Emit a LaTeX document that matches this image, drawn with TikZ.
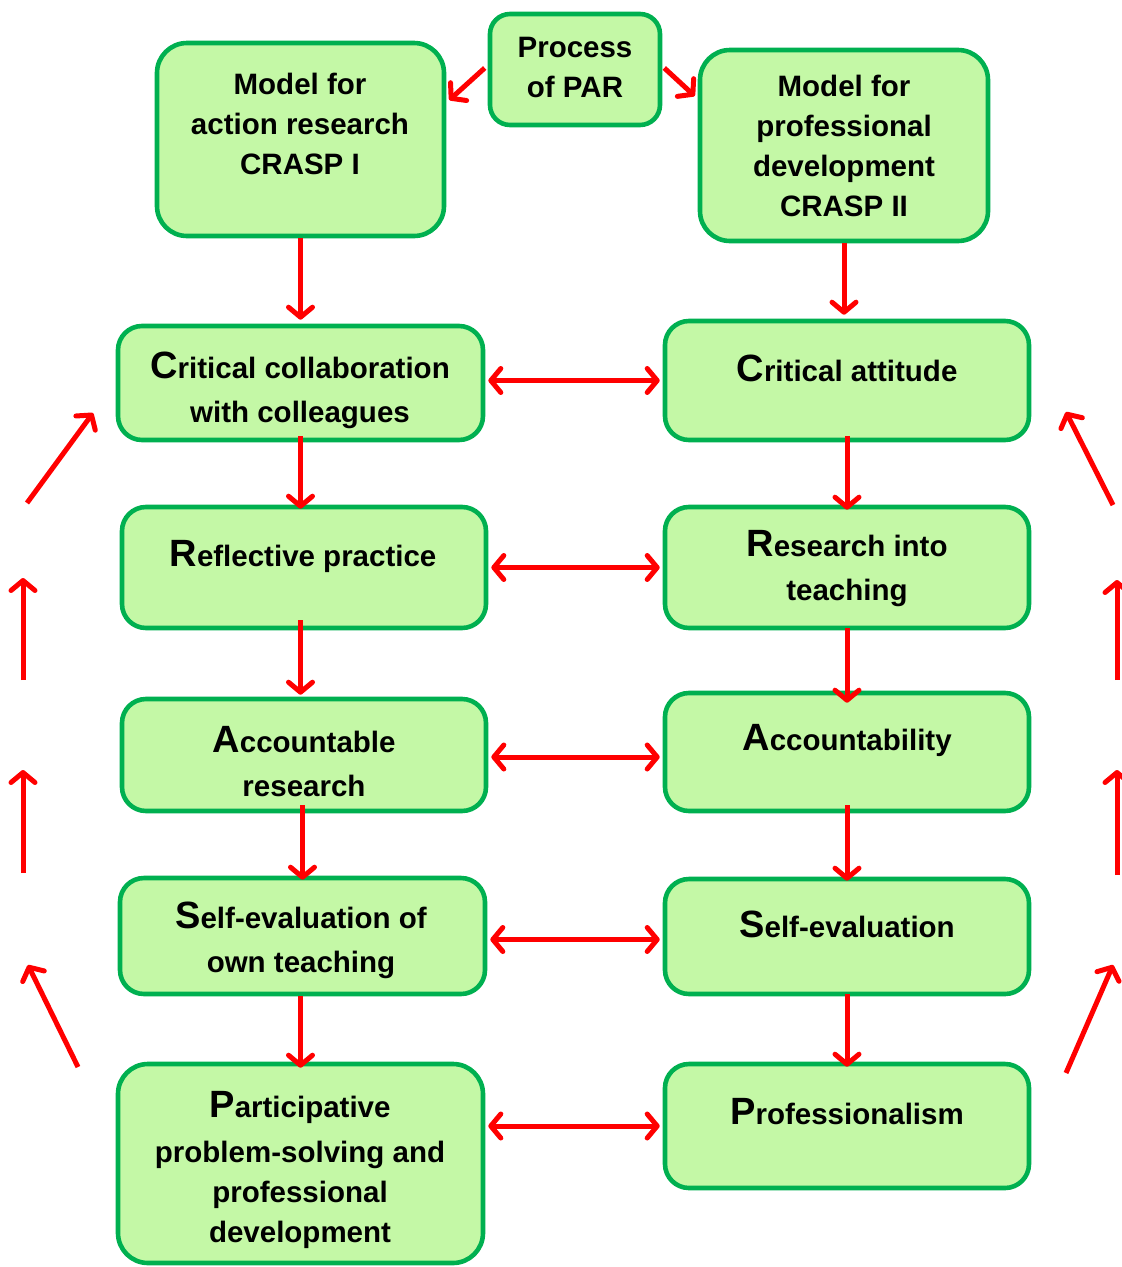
\documentclass[tikz,border=0pt]{standalone}
\usepackage{fontspec}
\setmainfont{Liberation Sans}
\usetikzlibrary{arrows.meta}
\definecolor{boxfill}{RGB}{196,248,166}
\definecolor{boxline}{RGB}{0,176,80}
\definecolor{arrred}{RGB}{255,0,0}
\newcommand{\bigini}[1]{{\fontsize{38}{44}\selectfont #1}}
\begin{document}
\begin{tikzpicture}[x=1pt,y=1pt,
  box/.style={draw=boxline, fill=boxfill, line width=4.6pt, rounded corners=24pt, inner sep=0pt},
  txt/.style={align=center, font=\bfseries\fontsize{29.5}{44}\selectfont, inner sep=0pt},
  ttxt/.style={align=center, font=\bfseries\fontsize{29.5}{40}\selectfont, inner sep=0pt},
  arr/.style={draw=arrred, line width=5pt, line cap=butt, -{Straight Barb[length=10pt,width=24pt,round]}},
  darr/.style={draw=arrred, line width=5pt, {Straight Barb[length=10pt,width=24pt,round]}-{Straight Barb[length=10pt,width=24pt,round]}}
]
\useasboundingbox (0,0) rectangle (1122,-1267);
% boxes
\node[box, rounded corners=20pt, minimum width=170pt, minimum height=111pt] (proc) at (575,-69.5) {};
\node[box, rounded corners=30pt, minimum width=287pt, minimum height=193pt] (m1) at (300.5,-139.5) {};
\node[box, rounded corners=30pt, minimum width=288pt, minimum height=191pt] (m2) at (844,-145.5) {};
\node[box, minimum width=365pt, minimum height=114pt] (L1) at (300.5,-383) {};
\node[box, minimum width=364pt, minimum height=119pt] (R1) at (847,-380.5) {};
\node[box, minimum width=364pt, minimum height=121pt] (L2) at (304,-567.5) {};
\node[box, minimum width=364pt, minimum height=121pt] (R2) at (847,-567.5) {};
\node[box, minimum width=364pt, minimum height=112pt] (L3) at (304,-755) {};
\node[box, minimum width=364pt, minimum height=118pt] (R3) at (847,-752) {};
\node[box, minimum width=365pt, minimum height=116pt] (L4) at (302.5,-936) {};
\node[box, minimum width=364pt, minimum height=115pt] (R4) at (847,-936.5) {};
\node[box, rounded corners=30pt, minimum width=365pt, minimum height=199pt] (L5) at (300.5,-1163.5) {};
\node[box, minimum width=364pt, minimum height=124pt] (R5) at (847,-1126) {};
% texts
\node[ttxt] (tproc) at (575,-67) {Process\\of PAR};
\node[ttxt] (tm1) at (300,-124) {Model for\\action research\\CRASP I};
\node[ttxt] (tm2) at (844,-146) {Model for\\professional\\development\\CRASP II};
\node[txt] (tL1) at (300,-390) {\bigini{C}ritical collaboration\\with colleagues};
\node[txt] (tR1) at (847,-368) {\bigini{C}ritical attitude};
\node[txt] (tL2) at (303,-556) {\bigini{R}eflective practice};
\node[txt] (tR2) at (847,-569) {\bigini{R}esearch into\\teaching};
\node[txt] (tL3) at (304,-762) {\bigini{A}ccountable\\research};
\node[txt] (tR3) at (847,-740) {\bigini{A}ccountability};
\node[txt] (tL4) at (301,-940) {\bigini{S}elf-evaluation of\\own teaching};
\node[txt] (tR4) at (847,-924) {\bigini{S}elf-evaluation};
\node[ttxt] (tL5) at (300,-1170) {\bigini{P}articipative\\[5pt]problem-solving and\\professional\\development};
\node[txt] (tR5) at (847,-1112) {\bigini{P}rofessionalism};
% top arrows
\draw[arr] ([xshift=-3pt,yshift=1.5pt]proc.west) -- ([xshift=3pt,yshift=39.5pt]m1.east);
\draw[arr] ([xshift=2pt,yshift=1.5pt]proc.east) -- ([xshift=-3pt,yshift=49.5pt]m2.west);
% vertical arrows
\draw[arr] (m1.south) -- ([yshift=4pt]m1.south |- L1.north);
\draw[arr] (m2.south) -- ([yshift=4pt]m2.south |- R1.north);
\draw[arr] ([yshift=6pt]L1.south) -- ([yshift=-4pt]L1.south |- L2.north);
\draw[arr] ([yshift=10pt]L2.south -| L1.south) -- ([yshift=2pt]L1.south |- L3.north);
\draw[arr] ([yshift=8pt]L3.south -| L4.south) -- ([yshift=-4pt]L4.north);
\draw[arr] (L4.south -| L1.south) -- ([yshift=-6pt]L5.north);
\draw[arr] ([yshift=6pt]R1.south) -- ([yshift=-5pt]R2.north);
\draw[arr] ([yshift=2pt]R2.south) -- ([yshift=-12pt]R3.north);
\draw[arr] ([yshift=8pt]R3.south) -- ([yshift=-4pt]R4.north);
\draw[arr] ([yshift=2pt]R4.south) -- ([yshift=-5pt]R5.north);
% horizontal double arrows
\draw[darr] ([xshift=3pt]L1.east |- R1.west) -- ([xshift=-3pt]R1.west);
\draw[darr] ([xshift=3pt]L2.east |- R2.west) -- ([xshift=-3pt]R2.west);
\draw[darr] ([xshift=3pt,yshift=-5pt]L3.east |- R3.west) -- ([xshift=-3pt,yshift=-5pt]R3.west);
\draw[darr] ([xshift=3pt,yshift=-3pt]L4.east |- R4.west) -- ([xshift=-3pt,yshift=-3pt]R4.west);
\draw[darr] ([xshift=3pt]L5.east |- R5.west) -- ([xshift=-3pt]R5.west);
% side arrows (free)
\coordinate (la1s) at (27,-503); \coordinate (la1e) at (93,-413);
\coordinate (la2s) at (23,-680); \coordinate (la2e) at (23,-578);
\coordinate (la3s) at (23,-873); \coordinate (la3e) at (23,-770);
\coordinate (la4s) at (78,-1067); \coordinate (la4e) at (28,-965);
\coordinate (ra1s) at (1113,-505); \coordinate (ra1e) at (1066,-412);
\coordinate (ra2s) at (1117,-680); \coordinate (ra2e) at (1117,-580);
\coordinate (ra3s) at (1117,-875); \coordinate (ra3e) at (1117,-770);
\coordinate (ra4s) at (1066,-1073); \coordinate (ra4e) at (1113,-965);
\foreach \a in {la1,la2,la3,la4,ra1,ra2,ra3,ra4}
  \draw[arr] (\a s) -- (\a e);
\end{tikzpicture}
\end{document}
